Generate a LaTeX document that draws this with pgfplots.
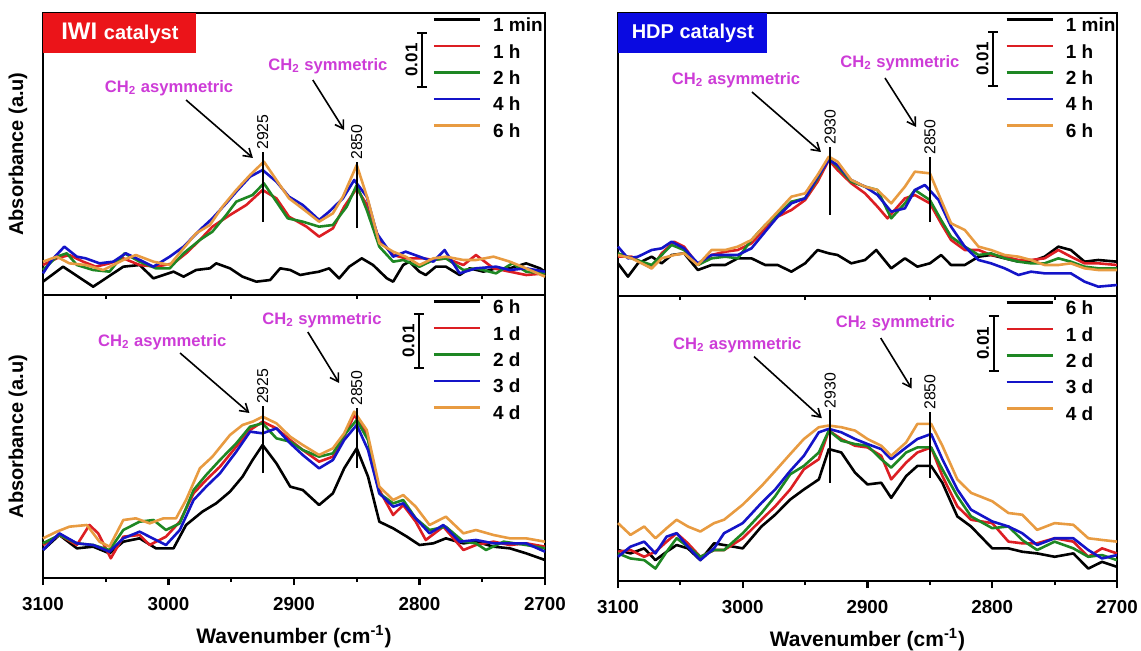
\documentclass[border=0pt]{standalone}
\usepackage{fontspec}
\setmainfont{Liberation Sans}
\usepackage{pgfplots}
\pgfplotsset{compat=1.18}
\usetikzlibrary{arrows.meta}

\definecolor{cred}{RGB}{220,30,35}
\definecolor{cgreen}{RGB}{30,135,35}
\definecolor{cblue}{RGB}{20,20,200}
\definecolor{corange}{RGB}{232,155,65}
\definecolor{cmag}{RGB}{205,60,215}
\definecolor{iwired}{RGB}{235,20,25}
\definecolor{hdpblue}{RGB}{10,10,225}

\tikzset{
  ann/.style={text=cmag, font=\fontsize{8.3}{9}\selectfont\bfseries},
  arr/.style={line width=0.8pt, -{Straight Barb[length=4pt,width=5pt]}},
  sbar/.style={line width=1pt, {Bar[width=5pt]}-{Bar[width=5pt]}},
  sbarlab/.style={rotate=90, anchor=south, inner sep=2pt, font=\fontsize{8.5}{9}\selectfont\bfseries},
  pline/.style={line width=0.9pt},
  plab/.style={rotate=90, anchor=west, inner sep=1pt, font=\fontsize{7.9}{9}\selectfont},
}

\pgfplotsset{
  panel/.style={
    scale only axis, clip=false,
    xmin=2700, xmax=3100, x dir=reverse, ymin=0,
    ytick=\empty,
    axis line style={line width=1.2pt},
    every tick/.style={black, line width=1.1pt},
    tick align=outside, xtick pos=left,
    major tick length=3.5pt, minor tick length=2pt,
    xtick={2700,2800,2900,3000,3100},
    minor xtick={2750,2850,2950,3050},
    /pgf/number format/1000 sep={},
    /pgf/number format/assume math mode=true,
    xticklabel style={font=\fontsize{9.4}{10}\selectfont\bfseries, yshift=-2.5pt},
    every axis plot/.append style={line width=1.3pt, line join=round},
    legend style={at={(rel axis cs:0.776,1)}, anchor=north west, yshift=-2.4pt,
      draw=none, fill=none, inner sep=0pt, outer sep=0pt,
      font=\fontsize{9.5}{11}\selectfont\bfseries,
      row sep=4.5pt, column sep=6pt,
      nodes={inner sep=0pt, text height=7pt, text depth=1.7pt}},
    legend cell align=left,
    legend image code/.code={\draw[##1, line width=1.3pt] (0pt,3.4pt) -- (23pt,3.4pt);},
    ylabel style={font=\fontsize{10}{12}\selectfont\bfseries},
    xlabel style={font=\fontsize{10.5}{12}\selectfont\bfseries},
  },
  toppanel/.style={panel, xmajorticks=false, xminorticks=false},
}

\begin{document}
\begin{tikzpicture}
\useasboundingbox (0,0) rectangle (570.5pt,-325.5pt);

% ---------------- top left: IWI, minutes/hours ----------------
\begin{axis}[toppanel, at={(21.5pt,-6.5pt)}, anchor=north west,
  width=251pt, height=141pt, ymax=846,
  ylabel={Absorbance (a.u)},
  ylabel style={at={(axis description cs:-0.0498,0.5)}, anchor=center}]
\addplot[black] coordinates {(3100,40)(3084,85)(3060,25)(3036,85)(3023,90)(3012,50)(2996,70)(2988,55)(2978,75)(2967,80)(2962,95)(2951,80)(2941,55)(2930,40)(2919,45)(2911,80)(2903,75)(2895,60)(2888,65)(2880,70)(2872,80)(2864,50)(2856,85)(2846,110)(2837,90)(2826,50)(2821,40)(2813,90)(2808,100)(2800,70)(2795,60)(2787,85)(2779,85)(2768,60)(2760,80)(2749,70)(2739,80)(2728,80)(2715,95)(2704,80)(2700,70)};
\addlegendentry{1 min}
\addplot[cred] coordinates {(3100,90)(3089,110)(3079,120)(3068,100)(3058,85)(3047,95)(3036,110)(3023,90)(3010,85)(2996,95)(2986,125)(2975,165)(2965,205)(2951,240)(2938,270)(2925,315)(2914,290)(2904,235)(2890,205)(2880,175)(2869,200)(2860,265)(2850,320)(2841,265)(2832,165)(2821,120)(2811,110)(2797,110)(2789,105)(2779,110)(2765,90)(2755,120)(2741,80)(2728,70)(2715,60)(2700,65)};
\addlegendentry{1 h}
\addplot[cgreen] coordinates {(3100,75)(3089,115)(3081,125)(3073,90)(3060,75)(3047,70)(3035,125)(3023,100)(3010,80)(2999,80)(2988,125)(2975,165)(2965,190)(2954,240)(2946,280)(2933,300)(2924,335)(2914,280)(2905,230)(2893,220)(2880,205)(2869,210)(2858,265)(2850,330)(2842,255)(2832,145)(2821,100)(2813,105)(2800,85)(2789,105)(2779,110)(2765,75)(2755,80)(2739,65)(2726,95)(2715,70)(2700,65)};
\addlegendentry{2 h}
\addplot[cblue] coordinates {(3100,65)(3093,105)(3083,145)(3073,115)(3066,110)(3055,95)(3044,100)(3034,125)(3020,100)(3012,85)(2999,115)(2988,145)(2975,195)(2965,230)(2954,275)(2946,310)(2935,355)(2925,375)(2914,340)(2904,295)(2893,270)(2880,225)(2872,250)(2861,290)(2852,345)(2842,295)(2834,185)(2821,115)(2811,130)(2800,115)(2789,100)(2780,135)(2768,65)(2755,80)(2739,85)(2728,75)(2715,80)(2700,70)};
\addlegendentry{4 h}
\addplot[corange] coordinates {(3100,100)(3089,115)(3079,95)(3066,90)(3052,75)(3036,105)(3026,120)(3012,100)(2999,90)(2988,140)(2978,185)(2967,210)(2957,265)(2946,315)(2935,360)(2924,400)(2914,345)(2904,290)(2890,250)(2880,220)(2869,245)(2861,295)(2850,390)(2841,285)(2832,155)(2821,130)(2811,115)(2800,90)(2789,110)(2779,115)(2765,105)(2755,105)(2741,115)(2728,100)(2715,80)(2700,55)};
\addlegendentry{6 h}
\node[anchor=north west, fill=iwired, text=white, minimum width=76.5pt, minimum height=20pt, inner sep=0pt, font=\bfseries] at (rel axis cs:0,1) {\fontsize{12}{13}\selectfont IWI \fontsize{10}{12}\selectfont catalyst};
\draw[sbar] (axis cs:2798,789) -- (axis cs:2798,621);
\node[sbarlab] at (axis cs:2798,705) {0.01};
\node[ann] at (axis cs:2999.6,621) {CH\textsubscript{2} asymmetric};
\node[ann] at (axis cs:2873,687) {CH\textsubscript{2} symmetric};
\draw[arr] (axis cs:2986,585) -- (axis cs:2932.7,411);
\draw[arr] (axis cs:2885,645) -- (axis cs:2860,495);
\draw[pline] (axis cs:2925,219) -- (axis cs:2925,429);
\node[plab] at (axis cs:2925,429) {2925};
\draw[pline] (axis cs:2850,201) -- (axis cs:2850,399);
\node[plab] at (axis cs:2850,399) {2850};
\end{axis}

% ---------------- bottom left: IWI, days ----------------
\begin{axis}[panel, at={(21.5pt,-147.5pt)}, anchor=north west,
  width=251pt, height=141.5pt, ymax=849,
  ylabel={Absorbance (a.u)},
  ylabel style={at={(axis description cs:-0.0498,0.5)}, anchor=center},
  xlabel={Wavenumber (cm\textsuperscript{-1})},
  xlabel style={at={(axis description cs:0.5,-0.2085)}, anchor=center}]
\addplot[black] coordinates {(3100,84)(3087,129)(3073,89)(3060,94)(3047,74)(3036,109)(3023,119)(3010,89)(2996,89)(2986,159)(2973,199)(2962,224)(2951,259)(2941,304)(2933,354)(2925,399)(2914,344)(2903,274)(2893,264)(2880,219)(2869,254)(2860,329)(2850,389)(2841,304)(2832,169)(2821,149)(2810,124)(2800,99)(2789,104)(2779,119)(2765,104)(2755,109)(2741,94)(2728,89)(2715,74)(2700,54)};
\addlegendentry{6 h}
\addplot[cred] coordinates {(3100,99)(3087,129)(3073,99)(3063,159)(3056,134)(3046,59)(3036,124)(3023,129)(3015,99)(3002,124)(2991,169)(2980,254)(2970,294)(2959,334)(2946,394)(2935,444)(2925,469)(2914,449)(2903,414)(2893,384)(2880,349)(2869,364)(2860,424)(2852,489)(2842,434)(2832,264)(2821,189)(2813,219)(2803,169)(2795,114)(2781,154)(2765,84)(2755,99)(2741,109)(2728,99)(2715,104)(2700,94)};
\addlegendentry{1 d}
\addplot[cgreen] coordinates {(3100,104)(3087,129)(3073,104)(3060,99)(3047,84)(3036,144)(3023,169)(3012,174)(3002,144)(2991,164)(2980,264)(2970,309)(2959,354)(2946,404)(2935,454)(2925,464)(2914,419)(2903,409)(2893,384)(2880,364)(2869,374)(2860,429)(2850,474)(2841,414)(2832,254)(2821,224)(2813,234)(2803,179)(2792,144)(2779,154)(2765,109)(2755,104)(2747,84)(2733,109)(2715,99)(2700,89)};
\addlegendentry{2 d}
\addplot[cblue] coordinates {(3100,84)(3087,134)(3073,104)(3060,99)(3047,79)(3036,119)(3023,139)(3010,114)(3002,99)(2991,144)(2980,234)(2970,274)(2959,314)(2946,379)(2935,439)(2925,434)(2914,449)(2903,404)(2893,369)(2880,329)(2869,354)(2860,414)(2850,459)(2841,384)(2832,254)(2821,214)(2813,224)(2803,179)(2792,134)(2781,159)(2768,109)(2755,114)(2741,104)(2728,104)(2715,104)(2700,79)};
\addlegendentry{3 d}
\addplot[corange] coordinates {(3100,119)(3089,139)(3079,154)(3065,159)(3055,109)(3047,94)(3036,174)(3026,179)(3015,164)(3004,179)(2994,179)(2986,234)(2975,329)(2965,364)(2951,429)(2941,459)(2933,469)(2925,484)(2914,464)(2903,424)(2893,399)(2880,369)(2869,389)(2860,434)(2852,499)(2842,444)(2832,274)(2821,234)(2813,249)(2803,214)(2792,159)(2779,184)(2765,134)(2755,144)(2741,129)(2728,119)(2715,119)(2700,109)};
\addlegendentry{4 d}
\draw[sbar] (axis cs:2800.4,795) -- (axis cs:2800.4,627);
\node[sbarlab] at (axis cs:2800.4,711) {0.01};
\node[ann] at (axis cs:3005,708) {CH\textsubscript{2} asymmetric};
\node[ann] at (axis cs:2877.7,774) {CH\textsubscript{2} symmetric};
\draw[arr] (axis cs:2990.8,675) -- (axis cs:2935.5,495);
\draw[arr] (axis cs:2889,738) -- (axis cs:2864,585);
\draw[pline] (axis cs:2925,315) -- (axis cs:2925,515);
\node[plab] at (axis cs:2925,515) {2925};
\draw[pline] (axis cs:2850,330) -- (axis cs:2850,510);
\node[plab] at (axis cs:2850,510) {2850};
\end{axis}

% ---------------- top right: HDP, minutes/hours ----------------
\begin{axis}[toppanel, at={(309pt,-6.5pt)}, anchor=north west,
  width=249.5pt, height=141.5pt, ymax=849]
\addplot[black] coordinates {(3100,98)(3092,58)(3084,98)(3073,118)(3065,98)(3057,123)(3047,128)(3036,78)(3025,93)(3014,93)(3004,113)(2993,113)(2982,93)(2972,93)(2961,73)(2950,98)(2940,138)(2931,128)(2924,123)(2913,98)(2902,108)(2893,138)(2881,83)(2870,113)(2860,88)(2850,98)(2841,123)(2833,93)(2822,93)(2811,118)(2801,123)(2790,113)(2779,103)(2769,103)(2758,118)(2747,148)(2737,138)(2726,103)(2715,108)(2700,103)};
\addlegendentry{1 min}
\addplot[cred] coordinates {(3100,118)(3089,118)(3073,83)(3065,128)(3055,163)(3047,148)(3036,93)(3025,123)(3014,133)(3004,138)(2993,158)(2982,203)(2972,238)(2961,258)(2950,288)(2940,343)(2931,408)(2924,378)(2913,338)(2902,308)(2892,268)(2884,233)(2870,293)(2862,303)(2850,278)(2841,218)(2833,168)(2822,138)(2811,138)(2801,123)(2790,118)(2779,108)(2769,108)(2758,113)(2747,138)(2737,118)(2726,98)(2715,98)(2700,93)};
\addlegendentry{1 h}
\addplot[cgreen] coordinates {(3100,128)(3089,113)(3073,93)(3057,153)(3047,138)(3036,93)(3025,113)(3014,118)(3004,113)(2993,168)(2982,213)(2972,243)(2961,283)(2950,293)(2940,353)(2931,413)(2924,388)(2913,343)(2902,328)(2892,318)(2881,233)(2870,278)(2862,318)(2850,288)(2841,228)(2833,178)(2822,148)(2811,123)(2801,128)(2790,113)(2779,103)(2769,98)(2758,98)(2747,113)(2737,103)(2726,88)(2715,83)(2700,83)};
\addlegendentry{2 h}
\addplot[cblue] coordinates {(3100,148)(3092,113)(3084,118)(3073,138)(3065,143)(3057,163)(3047,143)(3036,98)(3025,123)(3014,123)(3004,123)(2993,143)(2982,193)(2972,238)(2961,278)(2950,293)(2940,358)(2931,408)(2924,393)(2913,348)(2902,328)(2892,303)(2881,253)(2870,263)(2862,318)(2854,333)(2843,288)(2833,208)(2822,148)(2811,108)(2801,98)(2790,83)(2779,63)(2769,73)(2758,68)(2747,68)(2737,68)(2726,43)(2715,28)(2700,33)};
\addlegendentry{4 h}
\addplot[corange] coordinates {(3100,123)(3089,113)(3073,83)(3065,113)(3055,123)(3047,128)(3036,93)(3025,138)(3014,138)(3004,148)(2993,168)(2982,213)(2972,253)(2961,298)(2950,308)(2940,363)(2931,418)(2924,403)(2913,348)(2902,328)(2892,318)(2881,278)(2870,328)(2862,373)(2850,368)(2841,288)(2833,218)(2822,198)(2811,148)(2801,138)(2790,123)(2779,118)(2769,108)(2758,93)(2747,93)(2737,98)(2726,83)(2715,78)(2700,78)};
\addlegendentry{6 h}
\node[anchor=north west, fill=hdpblue, text=white, minimum width=74.5pt, minimum height=20pt, inner sep=0pt, font=\fontsize{10}{12}\selectfont\bfseries] at (rel axis cs:0,1) {HDP catalyst};
\draw[sbar] (axis cs:2799.4,795) -- (axis cs:2799.4,627);
\node[sbarlab] at (axis cs:2799.4,711) {0.01};
\node[ann] at (axis cs:3005.4,648) {CH\textsubscript{2} asymmetric};
\node[ann] at (axis cs:2874,699) {CH\textsubscript{2} symmetric};
\draw[arr] (axis cs:2992.6,612) -- (axis cs:2937.3,432);
\draw[arr] (axis cs:2886,654) -- (axis cs:2861,507);
\draw[pline] (axis cs:2930,243) -- (axis cs:2930,447);
\node[plab] at (axis cs:2930,447) {2930};
\draw[pline] (axis cs:2850,222) -- (axis cs:2850,417);
\node[plab] at (axis cs:2850,417) {2850};
\end{axis}

% ---------------- bottom right: HDP, days ----------------
\begin{axis}[panel, at={(309pt,-148pt)}, anchor=north west,
  width=249.5pt, height=142.5pt, ymax=847,
  xlabel={Wavenumber (cm\textsuperscript{-1})},
  xlabel style={at={(axis description cs:0.5,-0.207)}, anchor=center}]
\addplot[black] coordinates {(3100,92)(3090,82)(3079,97)(3070,62)(3061,87)(3053,107)(3044,97)(3034,62)(3023,112)(3015,107)(3000,97)(2985,162)(2974,197)(2962,242)(2951,272)(2939,302)(2931,392)(2921,382)(2910,322)(2900,287)(2889,292)(2881,247)(2869,312)(2860,342)(2849,342)(2840,292)(2828,192)(2817,162)(2800,97)(2787,97)(2776,87)(2764,82)(2750,72)(2735,82)(2723,37)(2712,57)(2700,42)};
\addlegendentry{6 h}
\addplot[cred] coordinates {(3100,87)(3090,92)(3079,72)(3070,87)(3061,117)(3053,142)(3044,112)(3034,72)(3023,92)(3015,92)(3000,127)(2985,182)(2974,222)(2962,272)(2951,332)(2939,362)(2931,447)(2921,422)(2910,402)(2900,397)(2889,372)(2881,302)(2869,352)(2860,382)(2849,397)(2840,312)(2828,222)(2817,182)(2800,172)(2787,117)(2776,112)(2764,112)(2750,127)(2735,117)(2723,72)(2712,97)(2700,82)};
\addlegendentry{1 d}
\addplot[cgreen] coordinates {(3100,82)(3090,67)(3079,62)(3070,37)(3061,87)(3053,127)(3044,102)(3034,72)(3023,92)(3015,92)(3000,142)(2985,202)(2974,252)(2962,317)(2951,342)(2939,382)(2931,447)(2921,417)(2910,407)(2900,402)(2889,362)(2881,337)(2869,382)(2860,397)(2849,397)(2840,332)(2828,252)(2817,192)(2800,157)(2787,162)(2776,122)(2764,92)(2750,117)(2735,97)(2723,72)(2712,77)(2700,62)};
\addlegendentry{2 d}
\addplot[cblue] coordinates {(3100,72)(3090,102)(3079,117)(3070,82)(3061,132)(3053,142)(3044,102)(3034,62)(3023,97)(3015,142)(3000,172)(2985,232)(2974,272)(2962,327)(2951,372)(2939,442)(2931,452)(2921,442)(2910,422)(2900,407)(2889,392)(2881,362)(2869,397)(2860,422)(2849,437)(2840,362)(2828,272)(2817,212)(2800,177)(2787,162)(2776,142)(2764,107)(2750,127)(2735,127)(2723,92)(2712,67)(2700,77)};
\addlegendentry{3 d}
\addplot[corange] coordinates {(3100,172)(3090,137)(3079,162)(3070,127)(3061,157)(3053,182)(3044,162)(3034,147)(3023,172)(3015,182)(3000,227)(2985,282)(2974,327)(2962,377)(2951,422)(2939,457)(2931,462)(2921,457)(2910,447)(2900,422)(2889,402)(2881,372)(2869,412)(2860,467)(2849,467)(2840,402)(2828,302)(2817,262)(2800,237)(2787,202)(2776,197)(2764,152)(2750,172)(2735,167)(2723,127)(2712,122)(2700,117)};
\addlegendentry{4 d}
\draw[sbar] (axis cs:2799,792) -- (axis cs:2799,622);
\node[sbarlab] at (axis cs:2799,707) {0.01};
\node[ann] at (axis cs:3004.4,702) {CH\textsubscript{2} asymmetric};
\node[ann] at (axis cs:2877.7,767) {CH\textsubscript{2} symmetric};
\draw[arr] (axis cs:2991,667) -- (axis cs:2936.6,484);
\draw[arr] (axis cs:2889.4,722) -- (axis cs:2864.6,572);
\draw[pline] (axis cs:2930,292) -- (axis cs:2930,507);
\node[plab] at (axis cs:2930,507) {2930};
\draw[pline] (axis cs:2850,307) -- (axis cs:2850,502);
\node[plab] at (axis cs:2850,502) {2850};
\end{axis}
\end{tikzpicture}
\end{document}
